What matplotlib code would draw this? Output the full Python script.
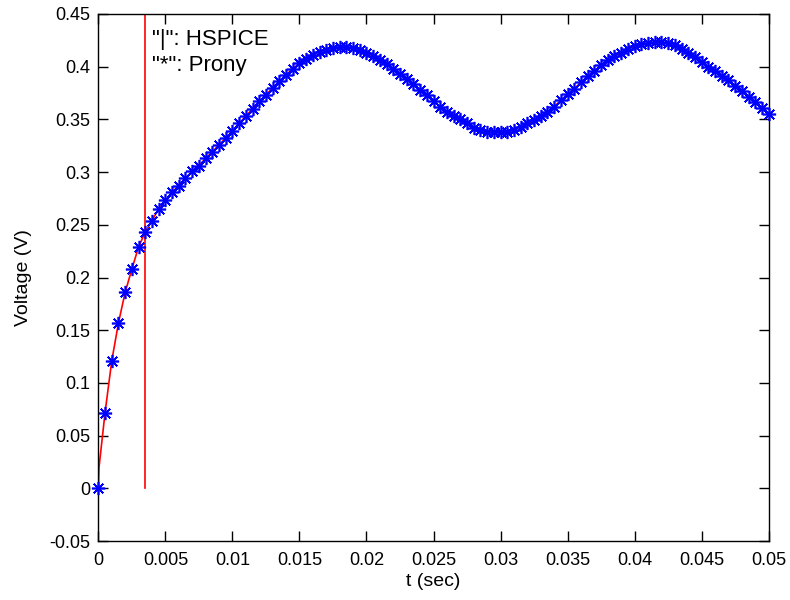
import matplotlib
matplotlib.use("Agg")
import matplotlib.pyplot as plt
import numpy as np

plt.rcParams['font.family'] = ['Liberation Sans', 'DejaVu Sans']

# Prony samples every 0.5 ms
t_ms = [i * 0.5 for i in range(101)]
prony_v = [
    0.000, 0.072, 0.121, 0.157, 0.186, 0.208, 0.229, 0.243, 0.254, 0.265,
    0.273, 0.281, 0.287, 0.294, 0.301, 0.306, 0.313, 0.319, 0.326, 0.332,
    0.339, 0.346, 0.353, 0.360, 0.367, 0.373, 0.380, 0.386, 0.392, 0.398,
    0.403, 0.407, 0.411, 0.414, 0.416, 0.418, 0.4185, 0.4185, 0.418, 0.416,
    0.413, 0.410, 0.406, 0.402, 0.398, 0.393, 0.388, 0.383, 0.378, 0.373,
    0.367, 0.362, 0.357, 0.353, 0.350, 0.346, 0.342, 0.340, 0.338, 0.338,
    0.338, 0.338, 0.340, 0.343, 0.346, 0.349, 0.353, 0.357, 0.362, 0.368,
    0.374, 0.379, 0.385, 0.391, 0.396, 0.401, 0.406, 0.410, 0.413, 0.417,
    0.419, 0.421, 0.4225, 0.423, 0.423, 0.422, 0.420, 0.417, 0.413, 0.409,
    0.404, 0.400, 0.396, 0.391, 0.387, 0.382, 0.377, 0.371, 0.366, 0.361,
    0.355,
]

# HSPICE trace (finer start) and its vertical jump
hspice_t_ms = [0.0, 0.05] + t_ms[1:]
hspice_v = [0.000, 0.020] + prony_v[1:]
jump_t_ms = [3.45, 3.45]
jump_v = [0.0, 0.46]

legend_lines = ['"|": HSPICE', '"*": Prony']

x_ticks = [0, 0.005, 0.01, 0.015, 0.02, 0.025, 0.03, 0.035, 0.04, 0.045, 0.05]
x_tick_labels = ['0', '0.005', '0.01', '0.015', '0.02', '0.025', '0.03', '0.035', '0.04', '0.045', '0.05']
y_ticks = [-0.05, 0, 0.05, 0.1, 0.15, 0.2, 0.25, 0.3, 0.35, 0.4, 0.45]
y_tick_labels = ['-0.05', '0', '0.05', '0.1', '0.15', '0.2', '0.25', '0.3', '0.35', '0.4', '0.45']

fig = plt.figure(figsize=(7.9, 6.0), dpi=100)
ax = fig.add_axes([0.1245, 0.098, 0.8485, 0.879])

t = np.array(t_ms) / 1000.0
ax.plot(np.array(hspice_t_ms) / 1000.0, hspice_v, color='red', lw=1.2, zorder=2)
ax.plot(np.array(jump_t_ms) / 1000.0, jump_v, color='red', lw=1.2, zorder=2)
ax.plot(t, prony_v, linestyle='none', marker=(8, 2, 0), markersize=9.5,
        markeredgewidth=1.2, color='#0000ff', zorder=3, clip_on=False)

ax.text(0.0040, 0.4200, legend_lines[0], fontsize=16, va='baseline', ha='left')
ax.text(0.0040, 0.3955, legend_lines[1], fontsize=16, va='baseline', ha='left')

ax.set_xlim(0, 0.05)
ax.set_ylim(-0.05, 0.45)
ax.set_xticks(x_ticks)
ax.set_xticklabels(x_tick_labels)
ax.set_yticks(y_ticks)
ax.set_yticklabels(y_tick_labels)
ax.tick_params(direction='in', length=7, width=1, top=True, right=True,
               labelsize=13, colors='black')
ax.tick_params(axis='x', pad=8)
ax.tick_params(axis='y', pad=6)
for s in ax.spines.values():
    s.set_linewidth(1.0)
    s.set_color('black')
ax.set_xlabel('t (sec)', fontsize=14, labelpad=3)
ax.set_ylabel('Voltage (V)', fontsize=14, labelpad=12)

fig.savefig('out.png', dpi=100)
